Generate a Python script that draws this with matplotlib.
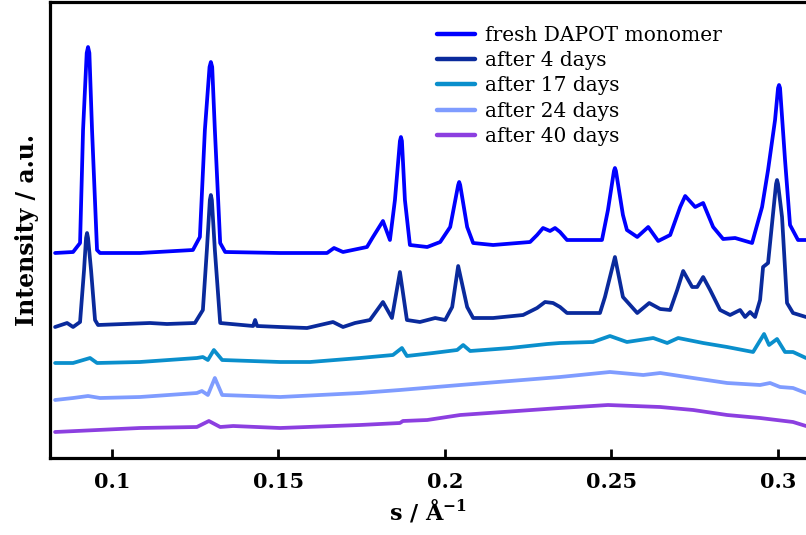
import matplotlib
matplotlib.use("Agg")
import matplotlib.pyplot as plt

# SAXS traces of DAPOT monomer ageing (stacked, arbitrary offsets)
s_fresh = [0.0829, 0.0883, 0.0904, 0.0913, 0.0924, 0.0928, 0.0932, 0.0940, 0.0955, 0.0964,
           0.1084, 0.1243, 0.1264, 0.1279, 0.1293, 0.1297, 0.1301, 0.1309, 0.1325, 0.1340,
           0.1505, 0.1646, 0.1667, 0.1694, 0.1766, 0.1784, 0.1814, 0.1835, 0.1850, 0.1865,
           0.1868, 0.1871, 0.1880, 0.1895, 0.1947, 0.1986, 0.2016, 0.2040, 0.2043, 0.2046,
           0.2067, 0.2085, 0.2145, 0.2256, 0.2277, 0.2295, 0.2316, 0.2331, 0.2346, 0.2367,
           0.2472, 0.2490, 0.2508, 0.2511, 0.2514, 0.2535, 0.2547, 0.2578, 0.2611, 0.2641,
           0.2677, 0.2707, 0.2722, 0.2752, 0.2776, 0.2806, 0.2836, 0.2872, 0.2923, 0.2953,
           0.2971, 0.2992, 0.3001, 0.3004, 0.3007, 0.3022, 0.3037, 0.3061, 0.3085]
i_fresh = [205, 206, 215, 328, 405, 411, 405, 328, 208, 205,
           205, 208, 221, 328, 391, 396, 391, 328, 215, 206,
           205, 205, 210, 206, 211, 221, 237, 218, 258, 317,
           321, 317, 258, 213, 211, 216, 231, 273, 276, 273,
           231, 215, 213, 216, 223, 230, 227, 230, 226, 218,
           218, 248, 287, 290, 287, 243, 228, 221, 231, 217,
           223, 251, 262, 251, 255, 231, 219, 220, 215, 251,
           288, 338, 370, 373, 370, 298, 233, 218, 218]

s_4d = [0.0829, 0.0865, 0.0883, 0.0904, 0.0916, 0.0922, 0.0925, 0.0928, 0.0937, 0.0949,
        0.0958, 0.1114, 0.1165, 0.1249, 0.1273, 0.1285, 0.1294, 0.1297, 0.1300, 0.1309,
        0.1325, 0.1424, 0.1430, 0.1436, 0.1505, 0.1586, 0.1664, 0.1694, 0.1730, 0.1775,
        0.1814, 0.1841, 0.1865, 0.1886, 0.1925, 0.1971, 0.2001, 0.2022, 0.2040, 0.2067,
        0.2085, 0.2145, 0.2235, 0.2277, 0.2301, 0.2325, 0.2346, 0.2367, 0.2466, 0.2481,
        0.2511, 0.2535, 0.2578, 0.2614, 0.2647, 0.2677, 0.2698, 0.2716, 0.2743, 0.2758,
        0.2776, 0.2797, 0.2827, 0.2857, 0.2887, 0.2902, 0.2917, 0.2932, 0.2947, 0.2956,
        0.2971, 0.2995, 0.2998, 0.3001, 0.3013, 0.3028, 0.3046, 0.3085]
i_4d = [131, 135, 131, 136, 188, 220, 225, 220, 188, 138,
        133, 135, 134, 135, 148, 208, 258, 263, 258, 208,
        135, 132, 138, 132, 131, 130, 136, 131, 135, 138,
        156, 140, 186, 138, 136, 140, 138, 151, 192, 151,
        140, 140, 143, 150, 156, 155, 151, 145, 145, 161,
        201, 161, 145, 155, 149, 148, 168, 187, 171, 171,
        181, 168, 148, 143, 148, 141, 146, 141, 158, 191,
        195, 274, 278, 274, 241, 155, 145, 141]

s_17d = [0.0829, 0.0883, 0.0934, 0.0955, 0.1084, 0.1255, 0.1273, 0.1288, 0.1306, 0.1331,
         0.1505, 0.1595, 0.1745, 0.1844, 0.1871, 0.1886, 0.1965, 0.2037, 0.2055, 0.2076,
         0.2196, 0.2307, 0.2346, 0.2445, 0.2496, 0.2547, 0.2626, 0.2668, 0.2701, 0.2776,
         0.2848, 0.2926, 0.2959, 0.2974, 0.2998, 0.3022, 0.3046, 0.3085]
i_17d = [95, 95, 100, 95, 96, 100, 101, 98, 108, 98,
         96, 96, 100, 103, 110, 102, 105, 108, 113, 107,
         110, 114, 115, 116, 122, 116, 120, 115, 120, 115,
         111, 106, 124, 113, 119, 106, 106, 100]

s_24d = [0.0829, 0.0883, 0.0928, 0.0964, 0.1084, 0.1255, 0.1270, 0.1288, 0.1309, 0.1331,
         0.1505, 0.1745, 0.1865, 0.2046, 0.2346, 0.2496, 0.2596, 0.2647, 0.2746, 0.2848,
         0.2947, 0.2977, 0.3007, 0.3046, 0.3085]
i_24d = [58, 60, 62, 60, 61, 65, 67, 63, 80, 63,
         61, 65, 68, 73, 81, 86, 83, 85, 80, 75,
         73, 75, 71, 70, 65]

s_40d = [0.0829, 0.1084, 0.1255, 0.1291, 0.1325, 0.1364, 0.1505, 0.1745, 0.1865, 0.1874,
         0.1947, 0.2046, 0.2346, 0.2490, 0.2647, 0.2746, 0.2848, 0.2947, 0.3046, 0.3085]
i_40d = [26, 30, 31, 37, 31, 32, 30, 33, 35, 37,
         38, 43, 50, 53, 51, 48, 43, 40, 36, 32]

labels = ["fresh DAPOT monomer", "after 4 days", "after 17 days", "after 24 days", "after 40 days"]
colors = ["#0000ff", "#0a2a9c", "#0a8fcc", "#7f9cff", "#8c3fe0"]
xticks = [0.1, 0.15, 0.2, 0.25, 0.3]
xtick_labels = ["0.1", "0.15", "0.2", "0.25", "0.3"]

plt.rcParams["font.family"] = ["DejaVu Serif"]
plt.rcParams["mathtext.fontset"] = "dejavuserif"

fig = plt.figure(figsize=(8.06, 5.35), dpi=100)
ax = fig.add_axes([50 / 806, 77 / 535, 1 - 50 / 806, 456 / 535])

series = [(s_fresh, i_fresh), (s_4d, i_4d), (s_17d, i_17d), (s_24d, i_24d), (s_40d, i_40d)]
for (s, i), lab, c in zip(series, labels, colors):
    ax.plot(s, i, color=c, lw=2.7, label=lab, solid_joinstyle="round", solid_capstyle="round")

ax.set_xlim(0.08137, 0.3085)
ax.set_ylim(0, 456)
ax.set_xticks(xticks)
ax.set_xticklabels(xtick_labels, fontweight="bold", fontsize=15)
ax.set_yticks([])
ax.tick_params(axis="x", direction="in", length=6.5, width=2, pad=10)
for side in ["left", "bottom", "top"]:
    ax.spines[side].set_linewidth(2.3)
ax.spines["right"].set_visible(False)

# x label placed by its baseline so the ring of the Å clears the tick labels
ax.set_xlabel(r"s / Å$^{\mathbf{-1}}$", fontsize=16, fontweight="bold", va="baseline")
ax.xaxis.set_label_coords(0.5, -62 / 456)
ax.set_ylabel("Intensity / a.u.", fontsize=17, fontweight="bold", labelpad=8)

leg = fig.legend(loc="upper left", bbox_to_anchor=(437 / 806, 1 - 26 / 535), frameon=False,
                 fontsize=14.5, handlelength=1.9, handletextpad=0.5, labelspacing=0.31,
                 borderpad=0, borderaxespad=0)
for h in leg.get_lines():
    h.set_linewidth(3.2)

fig.savefig("out.png", dpi=100)
